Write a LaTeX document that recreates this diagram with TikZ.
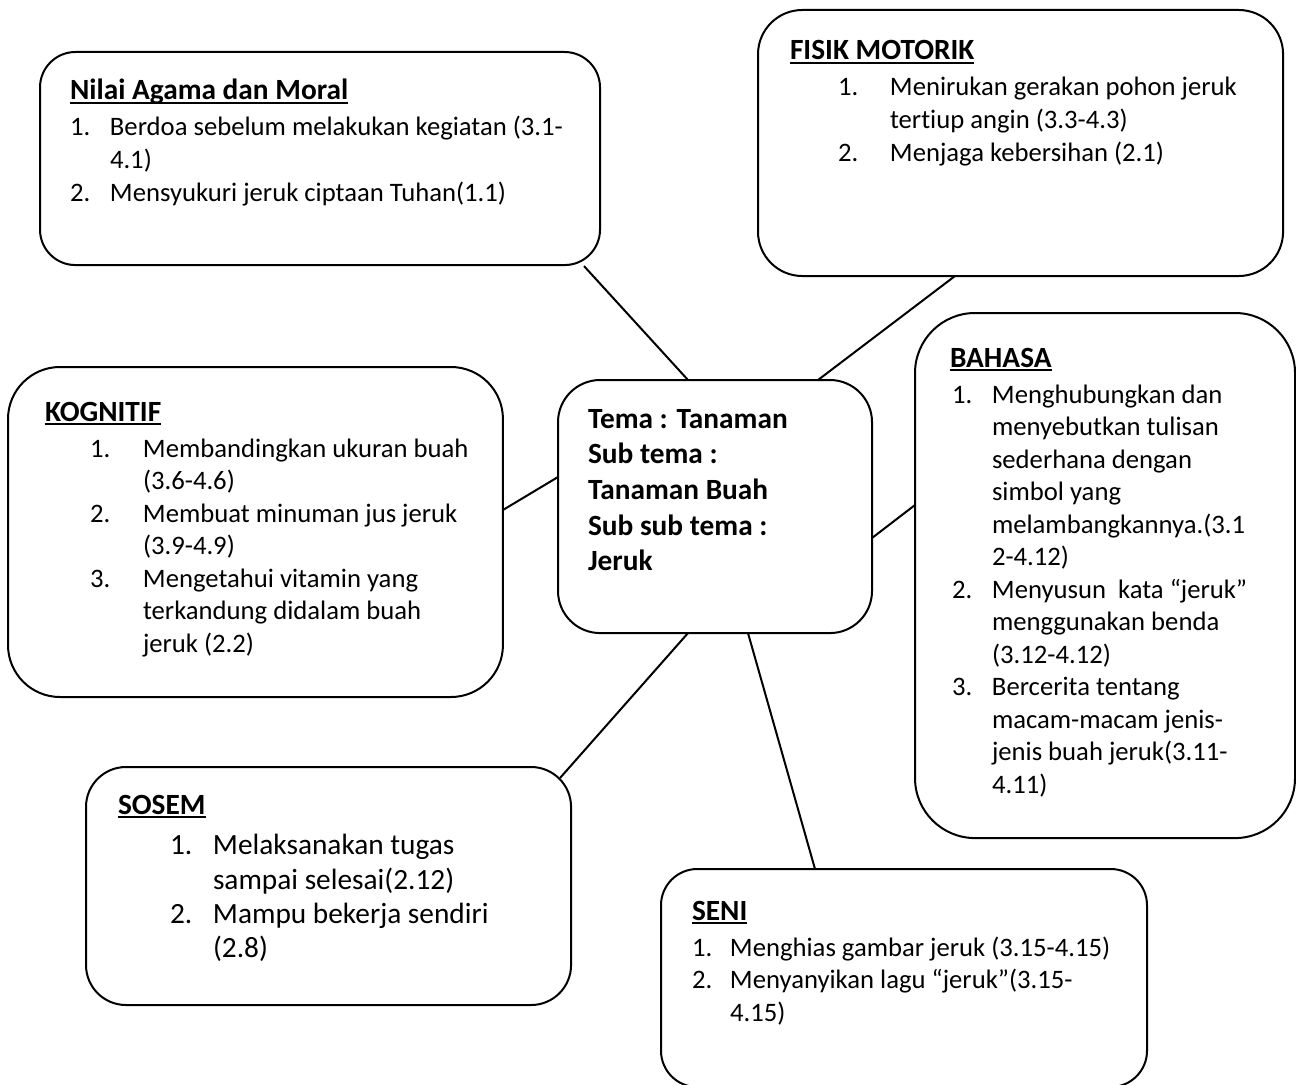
\documentclass[tikz,border=0pt]{standalone}
\usepackage{fontspec}
\setmainfont{Carlito}[Ligatures=NoCommon]
\newdimen\px \px=0.375pt
\newcommand\myul[1]{\leavevmode\setbox0=\hbox{#1}\rlap{\rule[-1.5pt]{\wd0}{0.75pt}}\box0}
\newcommand\ttl[1]{{\fontsize{11pt}{13.4pt}\selectfont\bfseries\noindent\myul{#1}\par}\vspace{1.3pt}}
% #1 number offset (px), #2 hang (px), #3 number, #4 text
\newcommand\itm[4]{{\fontsize{10pt}{12.2pt}\selectfont\leftskip=#1\px\hangindent=#2\px\hangafter=1\noindent\makebox[#2\px][l]{#3}#4\par}}
\newcommand\itmL[4]{{\fontsize{11pt}{12.86pt}\selectfont\leftskip=#1\px\hangindent=#2\px\hangafter=1\noindent\makebox[#2\px][l]{#3}#4\par}}
\begin{document}
\begin{tikzpicture}[x=0.375pt,y=-0.375pt,
  bx/.style={draw,line width=0.75pt,inner sep=0pt,outer sep=0pt,anchor=north west},
  txt/.style={anchor=base west,inner sep=0pt,outer sep=0pt,align=left},
  link/.style={line width=0.75pt}]
\useasboundingbox (0,0) rectangle (1296,1084);
\fill[white] (0,0) rectangle (1296,1084);

% boxes
\node[bx,rounded corners=13.3pt,minimum width=210pt,minimum height=79.9pt] (nilai) at (40,52) {};
\node[bx,rounded corners=16.6pt,minimum width=196.9pt,minimum height=99.75pt] (fisik) at (758,10) {};
\node[bx,rounded corners=19.5pt,minimum width=185.6pt,minimum height=123.75pt] (kog) at (8,367) {};
\node[bx,rounded corners=15.8pt,minimum width=117.75pt,minimum height=94.9pt] (tema) at (558,380) {};
\node[bx,rounded corners=22.5pt,minimum width=142.5pt,minimum height=196.9pt] (bahasa) at (915,313) {};
\node[bx,rounded corners=15pt,minimum width=181.9pt,minimum height=89.25pt] (sosem) at (86,767) {};
\node[bx,rounded corners=13.6pt,minimum width=182.25pt,minimum height=81.75pt] (seni) at (661,869) {};

% connectors
\draw[link] ([shift={(544,1)}]nilai.south west) -- ([shift={(130,0)}]tema.north west);
\draw[link] ([shift={(197,0)}]fisik.south west) -- ([shift={(260,0)}]tema.north west);
\draw[link] ([shift={(0,143)}]kog.north east) -- ([shift={(0,97)}]tema.north west);
\draw[link] ([shift={(0,158)}]tema.north east) -- ([shift={(0,192)}]bahasa.north west);
\draw[link] ([shift={(474,11)}]sosem.north west) -- ([shift={(130,0)}]tema.south west);
\draw[link] ([shift={(154,0)}]seni.north west) -- ([shift={(190,0)}]tema.south west);

% texts
\node[txt] (nilai-t) at (70,100) {\begin{minipage}[t]{525\px}
\ttl{Nilai Agama dan Moral}
\itm{0}{40}{1.}{Berdoa sebelum melakukan kegiatan (3.1-\\4.1)}
\itm{0}{40}{2.}{Mensyukuri jeruk ciptaan Tuhan(1.1)}
\end{minipage}};

\node[txt] (fisik-t) at (790,60) {\begin{minipage}[t]{480\px}
\ttl{FISIK MOTORIK}
\itm{48}{52}{1.}{Menirukan gerakan pohon jeruk\\tertiup angin (3.3-4.3)}
\itm{48}{52}{2.}{Menjaga kebersihan (2.1)}
\end{minipage}};

\node[txt] (kog-t) at (45,421) {\begin{minipage}[t]{450\px}
\ttl{KOGNITIF}
\itm{45}{53}{1.}{Membandingkan ukuran buah\\(3.6-4.6)}
\itm{45}{53}{2.}{Membuat minuman jus jeruk\\(3.9-4.9)}
\itm{45}{53}{3.}{Mengetahui vitamin yang\\terkandung didalam buah\\jeruk (2.2)}
\end{minipage}};

\node[txt] (tema-t) at (588,428) {\begin{minipage}[t]{280\px}
\fontsize{11pt}{13.4pt}\selectfont\bfseries
Tema : Tanaman\\
Sub tema :\\
Tanaman Buah\\
Sub sub tema :\\
Jeruk\par
\end{minipage}};

\node[txt] (bahasa-t) at (950,367) {\begin{minipage}[t]{340\px}
\ttl{BAHASA}
\itm{2}{40}{1.}{Menghubungkan dan\\menyebutkan tulisan\\sederhana dengan\\simbol yang\\melambangkannya.(3.1\\2-4.12)}
\itm{2}{40}{2.}{Menyusun\ \ kata “jeruk”\\menggunakan benda\\(3.12-4.12)}
\itm{2}{40}{3.}{Bercerita tentang\\macam-macam jenis-\\jenis buah jeruk(3.11-\\4.11)}
\end{minipage}};

\node[txt] (sosem-t) at (118,814) {\begin{minipage}[t]{440\px}
\ttl{SOSEM}
\vspace{1.2pt}
\itmL{52}{43}{1.}{Melaksanakan tugas\\sampai selesai(2.12)}
\itmL{52}{43}{2.}{Mampu bekerja sendiri\\(2.8)}
\end{minipage}};

\node[txt] (seni-t) at (692,920) {\begin{minipage}[t]{440\px}
\ttl{SENI}
\itm{0}{38}{1.}{Menghias gambar jeruk (3.15-4.15)}
\itm{0}{38}{2.}{Menyanyikan lagu “jeruk”(3.15-\\4.15)}
\end{minipage}};
\end{tikzpicture}
\end{document}
